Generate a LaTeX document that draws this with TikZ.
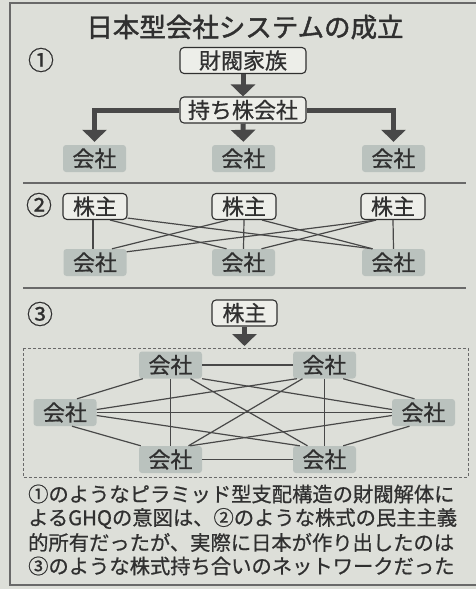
\documentclass[tikz,border=0pt]{standalone}
\usepackage{fontspec}
\setmainfont{Noto Sans CJK JP}[FakeBold=0.7]
\newfontfamily\titlefont{Noto Sans CJK JP}[FakeBold=1.6]
\usetikzlibrary{arrows.meta,calc}
\definecolor{paper}{RGB}{221,223,217}
\definecolor{boxw}{RGB}{237,238,233}
\definecolor{boxg}{RGB}{186,194,190}
\definecolor{ink}{RGB}{48,48,48}
\definecolor{edgec}{RGB}{72,72,72}
\definecolor{framec}{RGB}{105,105,105}
\XeTeXlinebreaklocale "ja"
\XeTeXlinebreakskip=0pt plus 4pt
\begin{document}
\begin{tikzpicture}[x=1pt,y=-1pt,text=ink,
  nodefont/.style={font=\fontsize{22}{24}\selectfont},
  wbox/.style={nodefont,draw=ink,line width=1.1pt,fill=boxw,rounded corners=4pt,inner sep=0pt,minimum height=26pt},
  gbox/.style={nodefont,fill=boxg,rounded corners=3pt,inner sep=0pt,minimum width=63pt,minimum height=27pt},
  link/.style={draw=edgec,line width=1.2pt},
  bigarrow/.style={draw=edgec,line width=5pt,-{Triangle[width=24pt,length=12pt]}},
  numlabel/.style={font=\fontsize{26}{28}\selectfont,inner sep=0pt},
  bodyline/.style={anchor=west,inner sep=0pt,font=\fontsize{20.3}{22}\selectfont}]
\useasboundingbox (0,0) rectangle (476,589);
\fill[paper] (0,0) rectangle (476,589);
% frame and separators
\draw[framec,line width=1.4pt] (476,3) -- (10,3) -- (10,585) -- (476,585);
\draw[framec,line width=1.3pt] (23,183) -- (466,183);
\draw[framec,line width=1.3pt] (23,288) -- (466,288);
% title
\node[inner sep=0pt,font=\titlefont\fontsize{26.5}{28}\selectfont] (title) at (245,27) {日本型会社システムの成立};
% section 1
\node[numlabel] (n1) at (41,60) {①};
\node[wbox,minimum width=126pt] (fam) at (243,60.5) {財閥家族};
\node[wbox,minimum width=126pt] (hold) at (243,110) {持ち株会社};
\node[gbox] (a1) at (94.5,158.5) {会社};
\node[gbox] (a2) at (243.5,158.5) {会社};
\node[gbox] (a3) at (393.5,158.5) {会社};
\draw[bigarrow] (fam.south) -- (hold.north);
\draw[bigarrow,shorten >=3pt] (hold.west) -| (a1.north);
\draw[bigarrow,shorten >=3pt] (hold.east) -| (a3.north);
\draw[bigarrow,shorten >=3pt] (hold.south) -- (a2.north);
% section 2
\node[numlabel] (n2) at (39,205) {②};
\node[wbox,minimum width=64pt] (s1) at (95,206.5) {株主};
\node[wbox,minimum width=64pt] (s2) at (244,206.5) {株主};
\node[wbox,minimum width=64pt] (s3) at (393,206.5) {株主};
\node[gbox] (c1) at (95,262.5) {会社};
\node[gbox] (c2) at (243.5,262.5) {会社};
\node[gbox] (c3) at (393.5,262.5) {会社};
\draw[link] ($(s1.south)+(-2,0)$) -- ($(c1.north)+(-2,0)$);
\draw[link] (s2.south) -- (c2.north);
\draw[link] (s3.south) -- (c3.north);
\draw[link] ($(s1.south)+(15,0)$) -- ($(c2.north)+(-17,0)$);
\draw[link] ($(s1.south east)+(0,-2)$) -- ($(c3.north)+(-21,0)$);
\draw[link] ($(c1.north)+(17,0)$) -- ($(s2.south)+(-16,0)$);
\draw[link] ($(c1.north east)+(0,3)$) -- ($(s3.south)+(-17,0)$);
\draw[link] ($(s2.south)+(18,0)$) -- ($(c3.north)+(-21,0)$);
\draw[link] ($(s3.south)+(-17,0)$) -- ($(c2.north)+(18,0)$);
% section 3
\node[numlabel] (n3) at (40,314) {③};
\node[wbox,minimum width=65pt] (top) at (244.5,313) {株主};
\coordinate (dnw) at (23,348);
\coordinate (dse) at (468,477);
\draw[framec,line width=0.9pt,dash pattern=on 3pt off 2pt] (dnw) rectangle (dse);
\draw[bigarrow] (top.south) -- ($(top.south |- dnw)+(0,-2)$);
\node[gbox] (TL) at (170.5,365) {会社};
\node[gbox] (TR) at (324.5,365) {会社};
\node[gbox] (L) at (65,412.5) {会社};
\node[gbox] (R) at (423.5,412.5) {会社};
\node[gbox] (BL) at (170.5,459.5) {会社};
\node[gbox] (BR) at (324.5,459.5) {会社};
\draw[link] (TL.east) -- (TR.west);
\draw[link] (BL.east) -- (BR.west);
\draw[link] (TL.south) -- (BL.north);
\draw[link] (TR.south) -- (BR.north);
\draw[link] ($(L.north)+(12,0)$) -- ($(TL.south west)+(4,0)$);
\draw[link] ($(L.east)+(0,-3)$) -- ($(TR.south west)+(4,0)$);
\draw[link] (L.east) -- (R.west);
\draw[link] ($(L.east)+(0,3)$) -- ($(BR.north west)+(7,0)$);
\draw[link] ($(L.south)+(7,0)$) -- ($(BL.north west)+(2,0)$);
\draw[link] ($(R.north)+(-9,0)$) -- ($(TR.south east)+(-13,0)$);
\draw[link] ($(R.west)+(0,-3)$) -- (TL.south east);
\draw[link] ($(R.west)+(0,3)$) -- ($(BL.north east)+(-12,0)$);
\draw[link] ($(R.south)+(-14,0)$) -- ($(BR.north east)+(-13,0)$);
\draw[link] ($(TL.south)+(20,0)$) -- ($(BR.north)+(-17,0)$);
\draw[link] ($(TR.south)+(-22,0)$) -- ($(BL.north)+(18,0)$);
% caption
\node[bodyline] (t1) at (28,494) {\hbox to 431pt{①のようなピラミッド型支配構造の財閥解体に}};
\node[bodyline] (t2) at (28,518.5) {\hbox to 431pt{よるGHQの意図は、②のような株式の民主主義}};
\node[bodyline] (t3) at (28,542.5) {\hbox to 431pt{的所有だったが、実際に日本が作り出したのは}};
\node[bodyline] (t4) at (28,566) {\hbox to 431pt{③のような株式持ち合いのネットワークだった}};
\end{tikzpicture}
\end{document}
